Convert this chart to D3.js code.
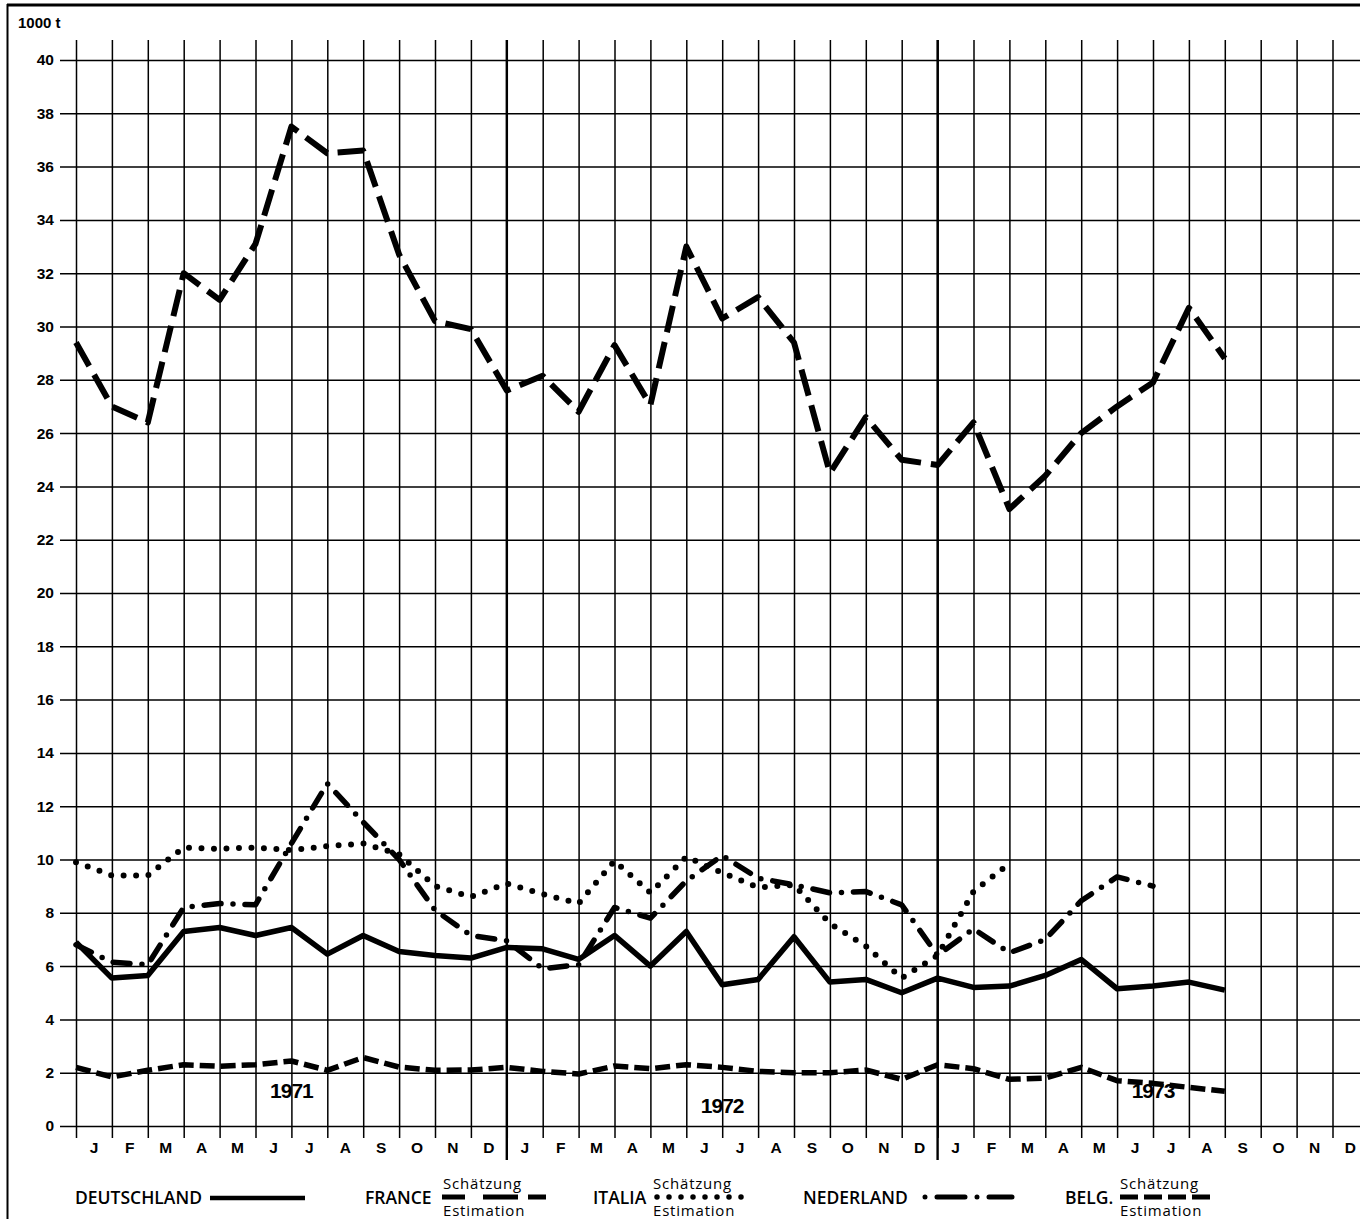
<!DOCTYPE html>
<html>
<head>
<meta charset="utf-8">
<script src="https://cdn.jsdelivr.net/npm/d3@7"></script>
<style>
  body { margin: 0; background: #fff; }
  svg { display: block; }
  .tick-y text { font-family: "Liberation Sans", Arial, sans-serif; font-weight: bold; font-size: 15.5px; }
  .month { font-family: "Liberation Sans", Arial, sans-serif; font-weight: bold; font-size: 15.5px; }
  .year { font-family: "Liberation Sans", Arial, sans-serif; font-weight: bold; font-size: 21px; letter-spacing: -1px; }
  .legend { font-family: "Open Sans", sans-serif; font-weight: 600; font-size: 17.5px; }
  .legend-small { font-family: "Open Sans", sans-serif; font-size: 15px; letter-spacing: 0.8px; }
</style>
</head>
<body>
<svg class="js-graph"></svg>
<script>
(function chartModule(d3) {
  /* <DATA> */
  // one value per month, starting with January 1971 (1000 t)
  var months = ['J', 'F', 'M', 'A', 'M', 'J', 'J', 'A', 'S', 'O', 'N', 'D'];
  var years = ['1971', '1972', '1973'];
  var yTicks = d3.range(0, 41, 2);

  var deutschland = [6.9, 5.55, 5.65, 7.3, 7.45, 7.15, 7.45, 6.45, 7.15, 6.55, 6.4, 6.3,
    6.7, 6.65, 6.25, 7.15, 6.0, 7.3, 5.3, 5.5, 7.1, 5.4, 5.5, 5.0,
    5.55, 5.2, 5.25, 5.65, 6.25, 5.15, 5.25, 5.4, 5.1];
  var france = [29.4, 27.0, 26.4, 32.0, 31.0, 33.1, 37.5, 36.5, 36.6, 32.7, 30.2, 29.9,
    27.6, 28.15, 26.8, 29.3, 27.05, 33.0, 30.3, 31.1, 29.4, 24.5, 26.6, 25.0,
    24.8, 26.4, 23.15, 24.4, 26.0, 27.0, 27.9, 30.7, 28.8];
  var italia = [9.9, 9.4, 9.4, 10.45, 10.4, 10.45, 10.35, 10.5, 10.6, 10.2, 9.0, 8.6,
    9.1, 8.7, 8.35, 9.95, 8.75, 10.1, 9.5, 8.95, 9.05, 7.6, 6.75, 5.55,
    6.4, 8.8, 9.85];
  var nederland = [6.8, 6.15, 6.05, 8.2, 8.35, 8.3, 10.6, 12.85, 11.4, 10.0, 8.1, 7.15,
    6.95, 5.9, 6.05, 8.2, 7.8, 9.2, 10.15, 9.3, 9.05, 8.75, 8.8, 8.3,
    6.4, 7.4, 6.5, 7.0, 8.45, 9.35, 9.0];
  var belg = [2.2, 1.84, 2.09, 2.3, 2.24, 2.3, 2.44, 2.09, 2.57, 2.21, 2.09, 2.1,
    2.2, 2.05, 1.95, 2.25, 2.15, 2.3, 2.2, 2.05, 2.0, 2.0, 2.1, 1.75,
    2.3, 2.15, 1.75, 1.8, 2.2, 1.7, 1.6, 1.45, 1.3];
  /* </DATA> */

  var width = 1360;
  var height = 1219;
  var svg = d3.select('.js-graph').attr('width', width).attr('height', height);

  var x = d3.scaleLinear().domain([0, 36]).range([76, 76 + 36 * 35.9]);
  var y = d3.scaleLinear().domain([0, 40]).range([1126, 60]);

  // frame of the scanned sheet
  svg.append('line').attr('x1', 7).attr('x2', width).attr('y1', 5).attr('y2', 5)
    .attr('stroke', '#000').attr('stroke-width', 3);
  svg.append('line').attr('x1', 7.5).attr('x2', 7.5).attr('y1', 4).attr('y2', height)
    .attr('stroke', '#000').attr('stroke-width', 2);

  svg.append('text').attr('x', 18).attr('y', 28)
    .style('font-family', '"Liberation Sans", Arial, sans-serif')
    .style('font-size', '15px').style('font-weight', 'bold')
    .text('1000 t');

  /* <GRID> */
  var yAxis = svg.append('g').attr('class', 'tick-y')
    .attr('transform', 'translate(60,0)')
    .call(d3.axisLeft(y).tickValues(yTicks).tickSize(-(width - 60)).tickPadding(6));
  yAxis.select('.domain').remove();
  yAxis.selectAll('line').attr('stroke', '#000').attr('stroke-width', 1.5);
  yAxis.selectAll('text').attr('fill', '#000');

  var xAxis = svg.append('g')
    .attr('transform', 'translate(0,1138)')
    .call(d3.axisBottom(x).tickValues(d3.range(0, 36)).tickSize(-(1138 - 40)).tickFormat(''));
  xAxis.select('.domain').remove();
  xAxis.selectAll('line').attr('stroke', '#000').attr('stroke-width', 1.5);

  // year dividers
  svg.selectAll('.divider').data([12, 24]).enter().append('line')
    .attr('class', 'divider')
    .attr('x1', function (d) { return x(d); }).attr('x2', function (d) { return x(d); })
    .attr('y1', 40).attr('y2', 1160)
    .attr('stroke', '#000').attr('stroke-width', 2.4);
  /* </GRID> */

  /* <LABELS> */
  var monthLabels = [];
  years.forEach(function (yr, yi) {
    months.forEach(function (m, mi) { monthLabels.push({ label: m, i: yi * 12 + mi }); });
  });
  svg.selectAll('.month').data(monthLabels).enter().append('text')
    .attr('class', 'month')
    .attr('x', function (d) { return x(d.i + 0.5); })
    .attr('y', 1153)
    .attr('text-anchor', 'middle')
    .text(function (d) { return d.label; });

  var yearPos = [{ t: years[0], i: 6, v: 1.05 }, { t: years[1], i: 18, v: 0.5 }, { t: years[2], i: 30, v: 1.05 }];
  svg.selectAll('.year').data(yearPos).enter().append('text')
    .attr('class', 'year')
    .attr('x', function (d) { return x(d.i); })
    .attr('y', function (d) { return y(d.v); })
    .attr('text-anchor', 'middle')
    .text(function (d) { return d.t; });
  /* </LABELS> */

  /* <SERIES> */
  var line = d3.line().x(function (d, i) { return x(i); }).y(function (d) { return y(d); });

  var series = [
    { values: france, width: 6, dash: '27 10', cap: 'butt' },
    { values: italia, width: 6, dash: '0 12.5', cap: 'round' },
    { values: nederland, width: 5.5, dash: '17 12 0 12', cap: 'round' },
    { values: deutschland, width: 5.5, dash: null, cap: 'butt' },
    { values: belg, width: 5.5, dash: '15 6', cap: 'butt' }
  ];
  series.forEach(function (s) {
    svg.append('path')
      .attr('d', line(s.values))
      .attr('fill', 'none')
      .attr('stroke', '#000')
      .attr('stroke-width', s.width)
      .attr('stroke-linecap', s.cap)
      .attr('stroke-linejoin', 'round')
      .attr('stroke-dasharray', s.dash);
  });
  /* </SERIES> */

  /* <LEGEND> */
  var legendY = 1204;
  var lg = svg.append('g');
  function legText(tx, ty, txt, cls) {
    lg.append('text').attr('class', cls || 'legend').attr('x', tx).attr('y', ty).text(txt);
  }
  function legLine(x1, x2, ly, w, dash, cap) {
    lg.append('line').attr('x1', x1).attr('x2', x2).attr('y1', ly).attr('y2', ly)
      .attr('stroke', '#000').attr('stroke-width', w)
      .attr('stroke-linecap', cap || 'butt')
      .attr('stroke-dasharray', dash || null);
  }
  legText(75, legendY, 'DEUTSCHLAND');
  legLine(210, 305, 1198, 4.5);

  legText(365, legendY, 'FRANCE');
  legText(443, 1189, 'Schätzung', 'legend-small');
  legText(443, 1216, 'Estimation', 'legend-small');
  legLine(442, 546, 1197, 5, '23 18 35 10 18');

  legText(593, legendY, 'ITALIA');
  legText(653, 1189, 'Schätzung', 'legend-small');
  legText(653, 1216, 'Estimation', 'legend-small');
  legLine(657, 742, 1197, 5.5, '0 12', 'round');

  legText(803, legendY, 'NEDERLAND');
  legLine(925, 1012, 1197, 5, '0 12 28 12', 'round');

  legText(1065, legendY, 'BELG.');
  legText(1120, 1189, 'Schätzung', 'legend-small');
  legText(1120, 1216, 'Estimation', 'legend-small');
  legLine(1120, 1212, 1197, 5, '18 6');
  /* </LEGEND> */
}(d3));
</script>
</body>
</html>
